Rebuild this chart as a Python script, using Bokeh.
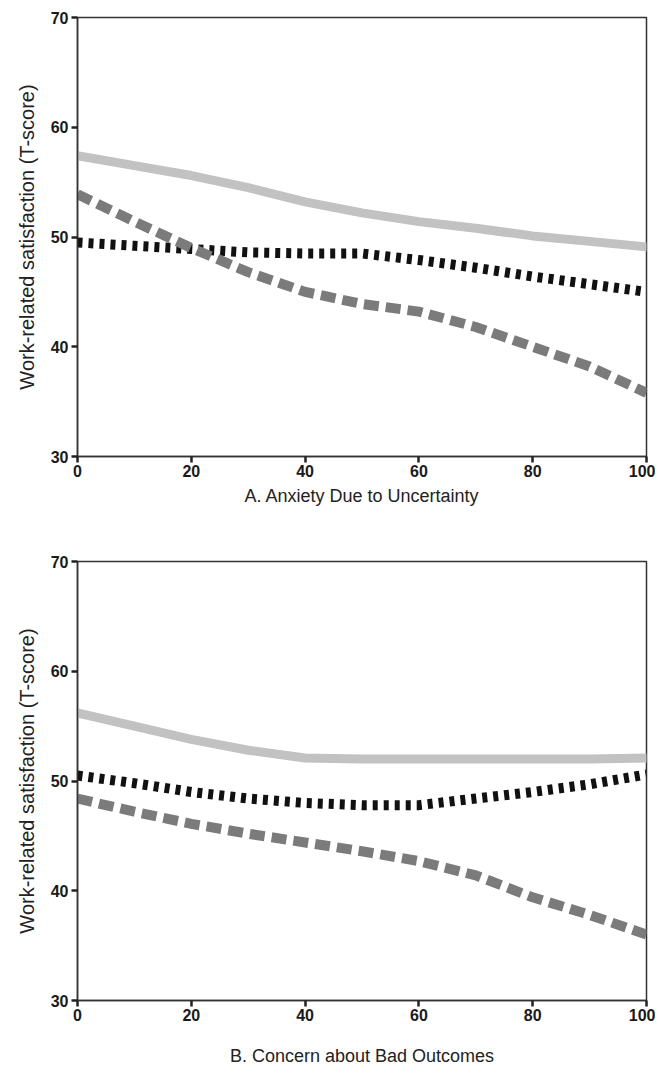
from bokeh.plotting import figure
from bokeh.layouts import column
from bokeh.models import Range1d, FixedTicker
from bokeh.embed import file_html
from bokeh.resources import INLINE

# ---- data ----
x_vals = [0, 10, 20, 30, 40, 50, 60, 70, 80, 90, 100]

a_light = [57.4, 56.5, 55.6, 54.5, 53.2, 52.2, 51.4, 50.8, 50.1, 49.6, 49.1]
a_black = [49.5, 49.2, 48.9, 48.6, 48.5, 48.5, 47.9, 47.2, 46.4, 45.7, 45.0]
a_dash = [53.9, 51.4, 49.0, 46.8, 45.0, 43.9, 43.2, 41.8, 40.0, 38.2, 35.8]

b_light = [56.2, 55.0, 53.8, 52.8, 52.1, 52.0, 52.0, 52.0, 52.0, 52.0, 52.1]
b_black = [50.5, 49.8, 49.0, 48.4, 48.0, 47.8, 47.8, 48.4, 49.0, 49.7, 50.6]
b_dash = [48.4, 47.2, 46.1, 45.2, 44.4, 43.6, 42.7, 41.4, 39.4, 37.8, 36.0]

x_ticks = [0, 20, 40, 60, 80, 100]
y_ticks = [30, 40, 50, 60, 70]
y_label = "Work-related satisfaction (T-score)"
titles = ["A. Anxiety Due to Uncertainty", "B. Concern about Bad Outcomes"]

FONT = "Liberation Sans"


def make_panel(light, black, dash, title, height, top, bottom, title_standoff):
    p = figure(width=655, height=height, output_backend="svg",
               toolbar_location=None,
               x_range=Range1d(0, 100), y_range=Range1d(30, 70),
               min_border_left=77, min_border_right=9,
               min_border_top=top, min_border_bottom=bottom)
    p.grid.visible = False
    p.outline_line_color = "#333333"
    p.outline_line_width = 1.5
    p.background_fill_color = "white"
    p.border_fill_color = "white"

    p.line(x_vals, light, line_color="#c2c2c2", line_width=9, line_cap="round")
    p.line(x_vals, black, line_color="#111111", line_width=10, line_dash="5 6")
    p.line(x_vals, dash, line_color="#7b7b7b", line_width=10, line_dash="15 7")

    for ax in (p.xaxis[0], p.yaxis[0]):
        ax.axis_line_color = "#333333"
        ax.axis_line_width = 1.5
        ax.major_tick_line_color = "#222222"
        ax.major_tick_line_width = 2.5
        ax.major_tick_out = 6
        ax.major_tick_in = 0
        ax.minor_tick_line_color = None
        ax.major_label_text_font = FONT
        ax.major_label_text_font_size = "16px"
        ax.major_label_text_font_style = "bold"
        ax.major_label_text_color = "#1a1a1a"

    p.xaxis.ticker = FixedTicker(ticks=x_ticks)
    p.yaxis.ticker = FixedTicker(ticks=y_ticks)
    p.xaxis.major_label_standoff = 2
    p.yaxis.major_label_standoff = 3

    p.xaxis.axis_label = title
    p.xaxis.axis_label_text_font = FONT
    p.xaxis.axis_label_text_font_size = "18px"
    p.xaxis.axis_label_text_font_style = "normal"
    p.xaxis.axis_label_text_color = "#222222"
    p.xaxis.axis_label_standoff = title_standoff

    p.yaxis.axis_label = y_label
    p.yaxis.axis_label_text_font = FONT
    p.yaxis.axis_label_text_font_size = "20px"
    p.yaxis.axis_label_text_font_style = "normal"
    p.yaxis.axis_label_text_color = "#222222"
    p.yaxis.axis_label_standoff = 10
    return p


p1 = make_panel(a_light, a_black, a_dash, titles[0], 528, 17, 72, 6)
p2 = make_panel(b_light, b_black, b_dash, titles[1], 542, 33, 70, 22)

layout = column(p1, p2, spacing=0)
open("out.html", "w").write(file_html(layout, INLINE))
